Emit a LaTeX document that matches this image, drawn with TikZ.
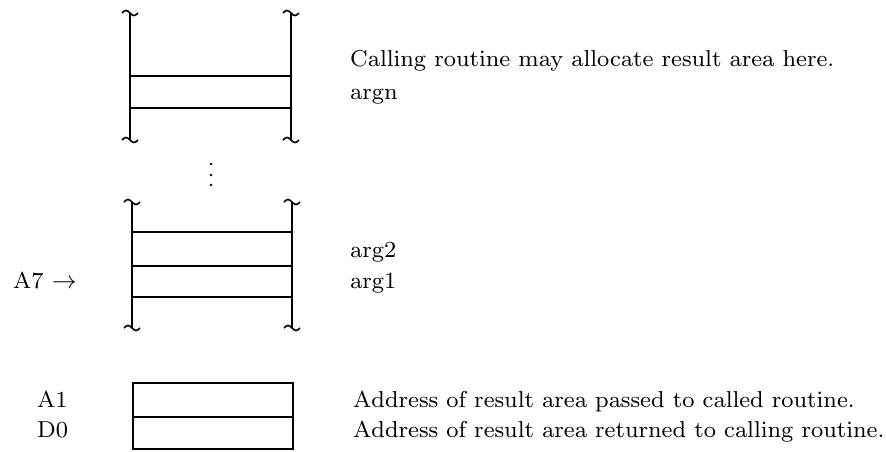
\documentclass[tikz,border=0pt]{standalone}
\font\lblfont=cmr8 at 23pt
\begin{document}
\begin{tikzpicture}[x=1pt,y=-1pt,
  wall/.style={line width=2.2pt},
  rule/.style={line width=1.8pt},
  lbl/.style={anchor=base west,inner sep=0pt,font=\fontsize{23}{26}\selectfont\lblfont},
  wave/.style={line width=1.6pt}]
\useasboundingbox (0,0) rectangle (886,451);
\newcommand\wavy[2]{\draw[wave] (#1-8,#2) sin (#1-4,#2-2.5) cos (#1,#2) sin (#1+4,#2+2.5) cos (#1+8,#2);}
% top block
\draw[wall] (130,13) -- (130,140);
\draw[wall] (291,13) -- (291,140);
\wavy{130}{13}\wavy{291}{13}\wavy{130}{140}\wavy{291}{140}
\draw[rule] (130,76) -- (291,76);
\draw[rule] (130,108) -- (291,108);
% dots
\foreach \yy in {164,175,185} \fill (211,\yy) circle (1.3);
% second block
\draw[wall] (132,202) -- (132,328);
\draw[wall] (292,202) -- (292,328);
\wavy{132}{202}\wavy{292}{202}\wavy{132}{328}\wavy{292}{328}
\draw[rule] (132,232) -- (292,232);
\draw[rule] (132,266) -- (292,266);
\draw[rule] (132,297) -- (292,297);
% registers
\draw[rule] (133,383) rectangle (293,449);
\draw[rule] (133,417) -- (293,417);
% labels
\node[lbl] (calling) at (350,66) {Calling routine may allocate result area here.};
\node[lbl] (argn) at (350,99) {argn};
\node[lbl] (arg2) at (350,257) {arg2};
\node[lbl] (arg1) at (350,288) {arg1};
\node[lbl] (a7) at (13,288) {A7 $\rightarrow$};
\node[lbl] (a1) at (37,407) {A1};
\node[lbl] (d0) at (37,437) {D0};
\node[lbl] (pass) at (353,407) {Address of result area passed to called routine.};
\node[lbl] (ret) at (353,437) {Address of result area returned to calling routine.};
\end{tikzpicture}
\end{document}
